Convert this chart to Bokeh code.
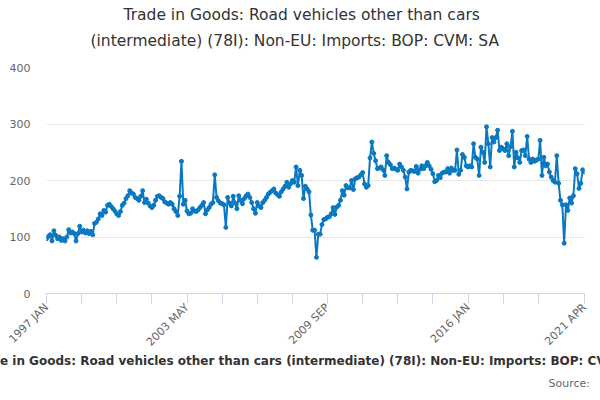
#Trade in Goods: Road vehicles other than cars (78I), Non-EU imports, monthly

from math import pi
import pandas as pd
from bokeh.plotting import figure
from bokeh.models import Range1d, FixedTicker, Title
from bokeh.embed import file_html
from bokeh.resources import INLINE

# monthly values, 1997 JAN .. 2021 APR
values = [
    97, 101, 104, 93, 111, 103, 97, 100, 94, 97, 93, 100,
    113, 107, 109, 106, 93, 106, 119, 109, 112, 107, 111, 106,
    110, 104, 124, 126, 132, 141, 138, 147, 144, 156, 158, 154,
    150, 146, 141, 138, 145, 156, 160, 168, 173, 182, 178, 176,
    170, 168, 165, 172, 182, 161, 167, 160, 155, 152, 156, 165,
    172, 173, 170, 168, 162, 160, 158, 161, 158, 150, 145, 138,
    172, 234, 158, 165, 146, 141, 142, 150, 146, 145, 148, 152,
    156, 161, 141, 148, 152, 158, 161, 210, 170, 164, 160, 159,
    157, 117, 170, 160, 155, 172, 160, 150, 173, 165, 159, 168,
    173, 176, 170, 161, 150, 142, 161, 155, 152, 161, 165, 170,
    176, 179, 182, 185, 178, 175, 172, 180, 185, 190, 197, 188,
    194, 200, 197, 224, 191, 218, 209, 168, 190, 185, 180, 139,
    112, 112, 64, 105, 105, 122, 131, 132, 135, 136, 141, 152,
    140, 153, 156, 165, 182, 174, 191, 187, 187, 200, 184, 203,
    205, 206, 210, 214, 194, 188, 191, 240, 268, 248, 235, 221,
    222, 224, 219, 209, 244, 232, 228, 221, 222, 220, 218, 229,
    224, 218, 206, 185, 215, 218, 217, 216, 225, 213, 220, 226,
    221, 226, 232, 226, 220, 212, 198, 200, 209, 205, 213, 215,
    215, 221, 213, 222, 218, 218, 254, 211, 218, 246, 241, 226,
    224, 226, 224, 265, 241, 238, 209, 259, 250, 232, 295, 265,
    224, 276, 268, 276, 289, 253, 259, 256, 253, 265, 244, 260,
    287, 224, 250, 240, 232, 253, 254, 244, 278, 238, 232, 238,
    234, 236, 238, 271, 209, 241, 226, 229, 215, 206, 200, 197,
    244, 195, 165, 157, 89, 157, 147, 169, 160, 173, 221, 212,
    186, 195, 219, 215,
]

months = pd.date_range("1997-01-01", periods=len(values), freq="MS")
month_labels = [d.strftime("%Y %b").upper() for d in months]
idx = list(range(len(values)))

# x ticks every 19 months plus the last month, only some are labelled
tick_idx = list(range(0, 267, 19)) + [len(values) - 1]
shown_labels = ["1997 JAN", "2003 MAY", "2009 SEP", "2016 JAN", "2021 APR"]

title_1 = "Trade in Goods: Road vehicles other than cars"
title_2 = "(intermediate) (78I): Non-EU: Imports: BOP: CVM: SA"
caption = "Trade in Goods: Road vehicles other than cars (intermediate) (78I): Non-EU: Imports: BOP: CVM: SA"
source = "Source:"

FONT = "DejaVu Sans"
BLUE = "#0a78c0"

p = figure(width=600, height=400, output_backend="svg", toolbar_location=None,
           x_range=Range1d(0, len(values) - 1), y_range=Range1d(0, 400),
           min_border_left=46, min_border_right=16, min_border_top=67, min_border_bottom=107)
p.outline_line_color = None
p.background_fill_color = "white"
p.border_fill_color = "white"

p.line(idx, values, line_color=BLUE, line_width=2)
p.scatter(idx, values, size=4, color=BLUE)

# x axis
p.xaxis.ticker = FixedTicker(ticks=tick_idx)
p.xaxis.major_label_overrides = {
    i: (month_labels[i] if month_labels[i] in shown_labels else "") for i in tick_idx
}
p.xaxis.major_label_orientation = pi / 4
p.xaxis.axis_line_color = "#ccd6eb"
p.xaxis.major_tick_line_color = "#ccd6eb"
p.xaxis.major_tick_out = 10
p.xaxis.major_tick_in = 0
p.xaxis.minor_tick_line_color = None
p.xaxis.major_label_text_color = "#666666"
p.xaxis.major_label_text_font = FONT
p.xaxis.major_label_text_font_size = "11px"
p.xaxis.major_label_standoff = 2
p.xgrid.grid_line_color = None

# y axis
p.yaxis.ticker = FixedTicker(ticks=[0, 100, 200, 300, 400])
p.yaxis.axis_line_color = None
p.yaxis.major_tick_line_color = None
p.yaxis.minor_tick_line_color = None
p.yaxis.major_label_text_color = "#666666"
p.yaxis.major_label_text_font = FONT
p.yaxis.major_label_text_font_size = "11px"
p.yaxis.major_label_standoff = 10
p.ygrid.grid_line_color = "#e6e6e6"

# two line title on top (the added title sits nearer the plot)
p.title.text = title_1
p.title.align = "left"
p.title.offset = 77
p.title.text_font = FONT
p.title.text_font_size = "15.5px"
p.title.text_font_style = "normal"
p.title.text_color = "#333333"
p.title.standoff = -25
p.add_layout(Title(text=title_2, align="left", offset=44, text_font=FONT,
                   text_font_size="15.5px", text_font_style="normal",
                   text_color="#333333", standoff=36), "above")

# footer
p.add_layout(Title(text=caption, align="left", offset=-76, text_font=FONT,
                   text_font_size="12px", text_font_style="bold",
                   text_color="#333333", standoff=-9), "below")
p.add_layout(Title(text=source, align="left", offset=502, text_font=FONT,
                   text_font_size="11px", text_font_style="normal",
                   text_color="#666666", standoff=22), "below")

open("out.html", "w").write(file_html(p, INLINE))
